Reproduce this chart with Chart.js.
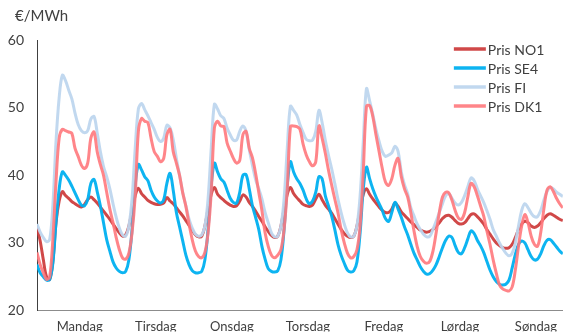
<!DOCTYPE html>
<html>
<head>
<meta charset="utf-8">
<script src="https://cdn.jsdelivr.net/npm/chart.js@4.4.1/dist/chart.umd.min.js"></script>
<style>
    html, body { margin: 0; padding: 0; background: #fff; overflow: hidden; }
</style>
</head>
<body>
<canvas id="chart" width="565" height="332"></canvas>
<script>

// =========================
// DATA (hourly, Monday 00 -> Sunday 23)
// =========================

const days = ["Mandag", "Tirsdag", "Onsdag", "Torsdag", "Fredag", "Lørdag", "Søndag"];
const unit = "€/MWh";
const yTicks = [20, 30, 40, 50, 60];

const prisNO1 = [
    32.2, 30.3, 27.5, 25.0, 24.6, 27.2, 33.0, 36.2, 37.6, 37.0, 36.6, 36.1, 35.8, 35.5, 35.3, 35.7, 36.4, 36.8, 36.4, 35.9, 35.3, 34.7, 34.1, 33.5,
    32.8, 32.1, 31.5, 31.0, 31.2, 32.5, 34.8, 37.0, 38.1, 37.3, 36.8, 36.3, 36.0, 35.8, 35.7, 35.7, 35.9, 36.7, 36.2, 35.8, 35.2, 34.6, 34.0, 33.3,
    32.6, 31.9, 31.2, 30.9, 31.0, 32.5, 35.0, 37.2, 38.2, 37.2, 36.7, 36.3, 35.9, 35.6, 35.4, 35.5, 36.2, 37.1, 36.8, 36.0, 35.4, 34.7, 33.9, 33.2,
    32.4, 31.7, 31.1, 30.8, 31.0, 32.5, 35.0, 37.2, 38.2, 37.3, 36.7, 36.2, 35.7, 35.5, 35.4, 35.6, 36.5, 37.2, 36.4, 35.6, 35.0, 34.4, 33.6, 32.8,
    32.0, 31.4, 31.0, 30.8, 31.0, 32.5, 35.0, 37.2, 38.0, 37.2, 36.5, 35.9, 35.3, 34.8, 34.5, 34.5, 35.0, 35.9, 35.4, 34.6, 34.1, 33.6, 33.1, 32.7,
    32.3, 31.9, 31.7, 31.6, 31.7, 32.0, 32.5, 33.0, 33.6, 34.0, 34.1, 33.8, 33.3, 32.9, 32.8, 33.0, 33.6, 34.2, 34.3, 33.9, 33.4, 32.8, 32.0, 31.3,
    30.6, 30.0, 29.6, 29.3, 29.2, 29.3, 29.8, 30.8, 32.0, 32.8, 33.2, 33.0, 32.5, 32.3, 32.5, 33.0, 33.6, 34.1, 34.3, 34.1, 33.8, 33.5, 33.3, 33.1
];

const prisSE4 = [
    26.8, 25.6, 25.0, 24.5, 24.6, 27.0, 33.0, 38.0, 40.5, 40.0, 39.3, 38.4, 37.4, 36.4, 35.6, 35.5, 36.4, 38.8, 39.4, 37.6, 35.5, 33.0, 30.5, 28.8,
    27.2, 26.3, 25.8, 25.6, 25.8, 27.5, 32.0, 38.5, 41.6, 40.8, 39.8, 39.2, 37.8, 36.8, 36.2, 35.9, 36.4, 38.8, 40.3, 37.8, 34.5, 32.4, 30.3, 28.2,
    26.8, 25.9, 25.6, 25.6, 25.8, 27.5, 32.0, 38.5, 41.8, 40.5, 39.5, 39.0, 37.8, 36.6, 36.0, 35.9, 37.5, 40.0, 40.1, 38.0, 35.5, 33.8, 32.0, 29.5,
    27.6, 26.2, 25.8, 25.7, 25.9, 27.5, 32.0, 38.5, 42.0, 40.5, 39.5, 38.8, 37.8, 36.5, 35.8, 36.2, 37.5, 39.8, 39.5, 37.0, 35.5, 34.0, 32.0, 29.8,
    28.2, 27.0, 26.0, 25.7, 25.9, 27.2, 31.5, 38.0, 41.2, 39.5, 38.0, 36.8, 35.8, 34.8, 33.6, 33.2, 34.5, 36.0, 35.0, 33.8, 32.4, 31.2, 29.8, 28.5,
    27.5, 26.5, 25.8, 25.4, 25.5, 26.0, 26.8, 28.0, 29.3, 30.4, 31.0, 30.8, 29.6, 28.6, 28.4, 29.3, 30.6, 31.8, 31.4, 30.4, 29.6, 28.6, 27.3, 26.0,
    25.0, 24.3, 23.9, 23.8, 23.9, 24.5, 26.3, 28.3, 29.8, 30.3, 30.0, 29.0, 28.0, 27.5, 27.6, 28.4, 29.6, 30.4, 30.5, 30.0, 29.4, 28.8, 28.4, 28.2
];

const prisFI = [
    32.8, 31.6, 30.8, 30.2, 30.5, 35.5, 45.0, 51.5, 54.8, 54.0, 52.6, 51.3, 49.2, 47.5, 46.6, 46.3, 46.6, 48.3, 48.7, 46.3, 43.5, 41.3, 39.8, 38.0,
    35.8, 33.8, 32.2, 31.2, 31.0, 32.5, 36.5, 44.0, 49.8, 50.6, 49.7, 48.8, 47.8, 46.8, 45.6, 45.0, 45.5, 47.4, 47.0, 45.3, 42.5, 40.0, 37.5, 35.5,
    33.5, 32.2, 31.3, 31.0, 31.2, 32.5, 36.5, 44.0, 50.5, 49.8, 48.8, 48.4, 47.0, 46.0, 45.2, 45.2, 46.5, 47.3, 46.5, 43.8, 41.5, 39.4, 38.0, 36.5,
    34.5, 33.0, 31.5, 30.9, 31.0, 32.5, 36.5, 44.0, 50.2, 49.6, 48.9, 47.5, 46.3, 45.3, 45.1, 45.2, 46.5, 49.6, 47.8, 45.2, 43.0, 41.0, 38.8, 36.5,
    34.5, 32.8, 31.5, 30.9, 31.0, 32.5, 37.0, 45.0, 52.8, 51.0, 49.0, 46.8, 45.0, 43.5, 42.8, 43.0, 43.3, 44.3, 43.5, 40.5, 38.6, 37.3, 35.2, 34.0,
    32.8, 32.0, 31.3, 30.9, 31.0, 32.0, 33.2, 34.5, 35.8, 37.0, 37.3, 36.6, 35.9, 35.6, 36.0, 37.0, 38.3, 39.6, 39.2, 38.0, 37.0, 36.0, 34.8, 33.5,
    32.0, 31.0, 30.0, 29.2, 28.5, 28.1, 28.5, 30.0, 32.5, 34.8, 35.8, 35.2, 34.4, 33.9, 33.9, 34.8, 36.3, 37.6, 38.2, 38.0, 37.5, 37.2, 36.9, 36.8
];

const prisDK1 = [
    28.6, 26.8, 25.6, 24.6, 25.0, 30.5, 39.0, 45.5, 46.8, 46.6, 46.4, 46.2, 44.0, 42.8, 41.5, 41.0, 41.8, 45.5, 46.4, 43.5, 41.6, 40.0, 37.5, 35.0,
    33.0, 30.8, 29.0, 27.8, 27.6, 28.5, 31.5, 37.0, 46.5, 48.4, 48.0, 47.8, 45.5, 43.5, 42.8, 42.0, 42.5, 46.0, 46.8, 43.5, 41.8, 40.0, 37.4, 35.4,
    32.8, 30.5, 28.8, 28.0, 27.8, 28.6, 31.5, 37.5, 47.0, 48.0, 47.3, 47.2, 44.8, 43.6, 42.5, 41.8, 42.2, 46.0, 46.5, 44.0, 42.6, 40.3, 37.5, 34.8,
    31.5, 29.5, 28.2, 27.8, 28.2, 29.0, 32.0, 38.0, 47.2, 47.3, 47.2, 46.8, 44.6, 43.0, 42.0, 41.4, 42.0, 47.3, 45.5, 43.3, 40.8, 38.6, 36.5, 34.5,
    32.0, 30.0, 28.5, 27.8, 28.0, 29.0, 32.5, 40.5, 50.2, 50.3, 48.7, 46.0, 43.5, 41.0, 39.0, 38.5, 39.5, 41.5, 42.5, 39.8, 38.0, 36.8, 34.5, 31.8,
    29.5, 28.0, 27.3, 27.0, 27.3, 28.8, 31.5, 34.5, 36.8, 37.5, 37.4, 36.3, 34.8, 33.7, 33.5, 34.5, 36.8, 38.8, 38.3, 37.0, 35.5, 34.0, 31.8, 29.8,
    27.5, 25.5, 23.8, 23.2, 23.0, 22.9, 23.5, 26.0, 29.5, 32.5, 34.2, 33.0, 31.0, 29.8, 29.5, 31.5, 35.0, 37.8, 38.3, 37.6, 36.6, 35.8, 35.2, 34.8
];

// =========================
// SERIES
// =========================

const toPoints = arr => arr.map((v, h) => ({ x: h, y: v }));

const series = [
    { label: "Pris NO1", data: prisNO1, color: "rgba(204,56,56,0.92)", order: 3 },
    { label: "Pris SE4", data: prisSE4, color: "rgba(0,176,240,0.95)", order: 2 },
    { label: "Pris FI",  data: prisFI,  color: "rgba(190,214,238,0.95)", order: 1 },
    { label: "Pris DK1", data: prisDK1, color: "rgba(255,120,124,0.9)", order: 0 }
];

Chart.defaults.font.family = "Lato";
Chart.defaults.color = "#404040";

// unit label + legend in the top right
const overlay = {
    id: "overlay",
    afterDraw(chart) {
        const ctx = chart.ctx;
        const area = chart.chartArea;
        ctx.save();
        ctx.fillStyle = "#404040";
        ctx.font = "15px Lato";
        ctx.textBaseline = "alphabetic";
        ctx.fillText(unit, area.left - 22, area.top - 19);

        ctx.font = "14px Lato";
        ctx.textBaseline = "middle";
        chart.data.datasets.forEach((ds, i) => {
            const y = area.top + 9 + i * 19;
            const x = area.right - 109;
            ctx.strokeStyle = ds.borderColor;
            ctx.lineWidth = 3.5;
            ctx.beginPath();
            ctx.moveTo(x, y);
            ctx.lineTo(x + 32, y);
            ctx.stroke();
            ctx.fillText(ds.label, x + 34, y + 1);
        });
        ctx.restore();
    }
};

new Chart(document.getElementById("chart").getContext("2d"), {
    type: "line",
    data: {
        datasets: series.map(s => ({
            label: s.label,
            data: toPoints(s.data),
            borderColor: s.color,
            backgroundColor: s.color,
            borderWidth: 3,
            pointRadius: 0,
            tension: 0.35,
            order: s.order
        }))
    },
    options: {
        responsive: false,
        animation: false,
        layout: {
            padding: { top: 40, right: 0, bottom: 0, left: 0 }
        },
        plugins: {
            legend: { display: false },
            tooltip: { enabled: false }
        },
        scales: {
            x: {
                type: "linear",
                min: 0,
                max: 166,
                afterBuildTicks: scale => {
                    scale.ticks = days.map((d, i) => ({ value: 13.5 + 24 * i }));
                },
                afterFit: scale => { scale.height = 21; },
                ticks: {
                    autoSkip: false,
                    maxRotation: 0,
                    padding: 8,
                    color: "#404040",
                    font: { size: 13 },
                    callback: (v, i) => days[i]
                },
                grid: { display: false, drawTicks: false },
                border: { color: "#8c8c8c", width: 1 }
            },
            y: {
                min: 20,
                max: 60,
                afterBuildTicks: scale => {
                    scale.ticks = yTicks.map(v => ({ value: v }));
                },
                afterFit: scale => { scale.width = 37; },
                ticks: {
                    padding: 13,
                    color: "#404040",
                    font: { size: 14 }
                },
                grid: { display: false, drawTicks: false },
                border: { color: "#404040", width: 1 }
            }
        }
    },
    plugins: [overlay]
});

</script>
</body>
</html>
